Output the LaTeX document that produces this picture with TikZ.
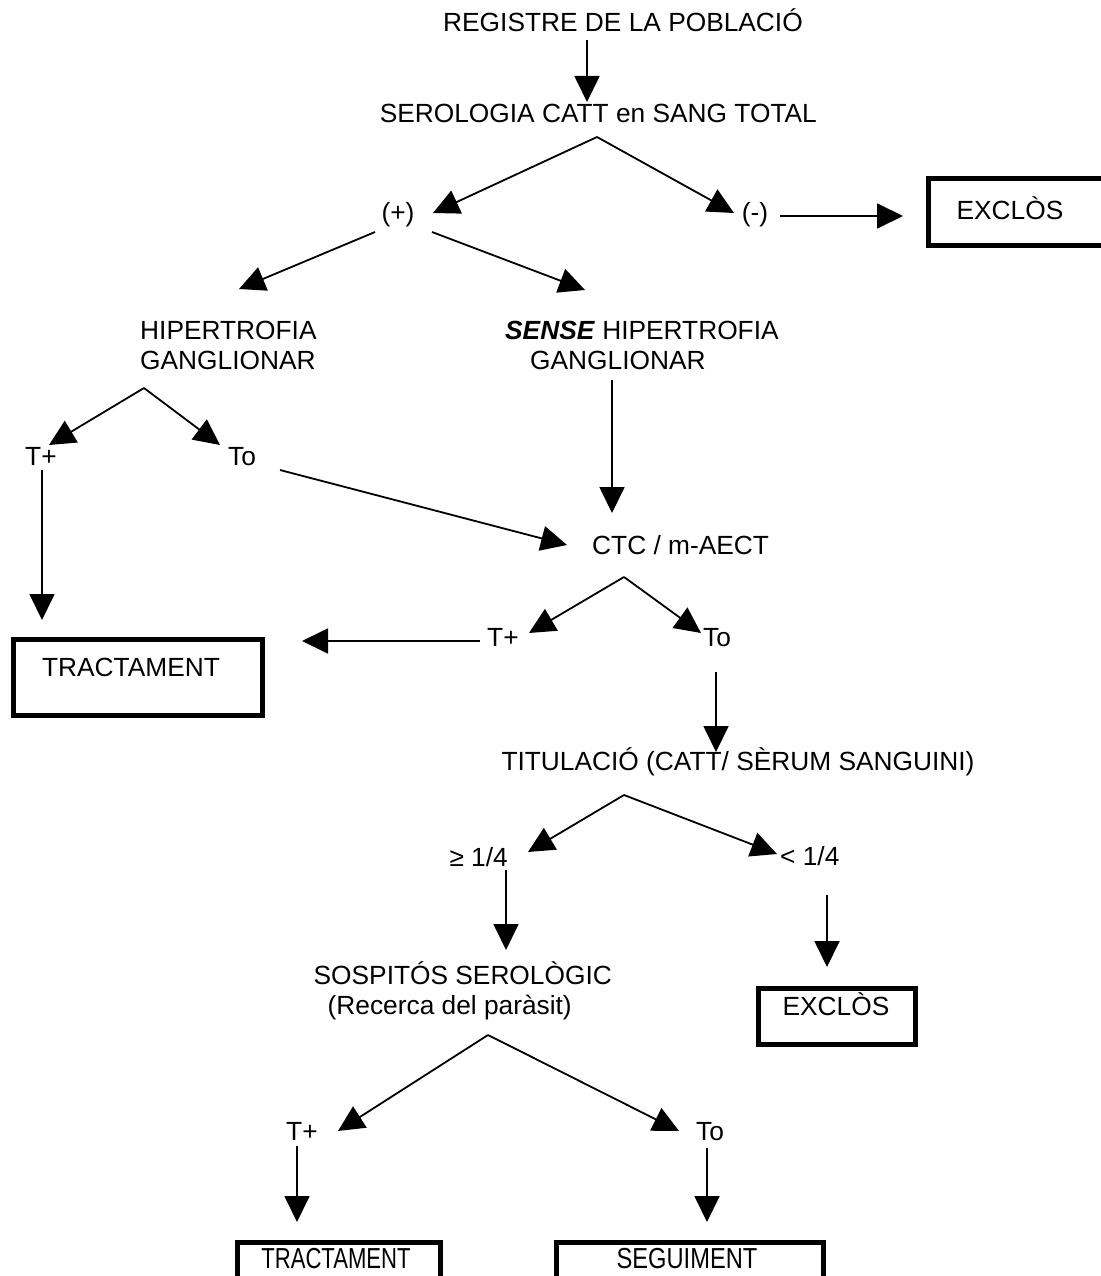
\documentclass[tikz,border=0pt]{standalone}
\usepackage{fontspec}
\setmainfont{Liberation Sans}
\usetikzlibrary{arrows.meta}
\begin{document}
\begin{tikzpicture}[x=1pt,y=-1pt,
  lbl/.style={inner sep=0pt, font=\fontsize{26.3}{30}\selectfont, text height=18.8pt, text depth=0pt},
  arr/.style={line width=1.8pt, -{Triangle[length=26pt,width=25pt]}},
  ln/.style={line width=1.8pt},
  boxx/.style={draw, line width=5pt, inner sep=0pt}]
\useasboundingbox (0,0) rectangle (1100,1276);
\fill[white] (0,0) rectangle (1100,1276);

% texts
\node[lbl, anchor=west] (reg) at (443,22) {REGISTRE DE LA POBLACIÓ};
\node[lbl, anchor=east] (ser) at (817,113) {SEROLOGIA CATT en SANG TOTAL};
\node[lbl] (plus) at (398,212) {(+)};
\node[lbl] (minus) at (755,212) {(-)};
\node[boxx, anchor=north west, minimum width=210, minimum height=66] (exc1box) at (925.5,176.5) {};
\node[lbl] (exc1) at (1010,210) {EXCLÒS};
\node[lbl, anchor=west] (hip1) at (140,330) {HIPERTROFIA};
\node[lbl, anchor=west] (hip2) at (140,360) {GANGLIONAR};
\node[lbl, anchor=west] (sen1) at (505,330) {\textbf{\textit{SENSE}} HIPERTROFIA};
\node[lbl, anchor=west] (sen2) at (530,360) {GANGLIONAR};
\node[lbl, anchor=west] (tp1) at (25,456) {T+};
\node[lbl, anchor=west] (to1) at (228,456) {To};
\node[boxx, anchor=north west, minimum width=249, minimum height=76] (tr1box) at (10.5,636.5) {};
\node[lbl] (tr1) at (131,667) {TRACTAMENT};
\node[lbl, anchor=west] (ctc) at (592,545) {CTC / m-AECT};
\node[lbl, anchor=west] (tp2) at (487,637) {T+};
\node[lbl, anchor=west] (to2) at (703,637) {To};
\node[lbl] (tit) at (738,761) {TITULACIÓ (CATT/ SÈRUM SANGUINI)};
\node[lbl, anchor=east] (ge) at (508,857) {≥ 1/4};
\node[lbl, anchor=west] (lt) at (780,856) {< 1/4};
\node[lbl, anchor=east] (sos1) at (612,975) {SOSPITÓS SEROLÒGIC};
\node[lbl, anchor=east] (sos2) at (572,1005) {(Recerca del paràsit)};
\node[boxx, anchor=north west, minimum width=157, minimum height=56] (exc2box) at (755.5,985.5) {};
\node[lbl] (exc2) at (836,1006) {EXCLÒS};
\node[lbl, anchor=west] (tp3) at (286,1131) {T+};
\node[lbl, anchor=west] (to3) at (696,1131) {To};
\node[boxx, anchor=north west, minimum width=203, minimum height=60] (tr2box) at (234.5,1239.5) {};
\node[lbl] (tr2) at (336,1259) {\scalebox{0.84}[1.1]{TRACTAMENT}};
\node[boxx, anchor=north west, minimum width=267, minimum height=60] (segbox) at (553.5,1239.5) {};
\node[lbl] (seg) at (687,1259) {\scalebox{0.9}[1.1]{SEGUIMENT}};

% connector end points
\coordinate (a0) at (587,40);
\coordinate (a1) at (587,102);
\coordinate (b0) at (597,137);
\coordinate (b1) at (433,213);
\coordinate (b2) at (734,213);
\coordinate (c0) at (780,216);
\coordinate (c1) at (903,216);
\coordinate (d0) at (375,232);
\coordinate (d1) at (239,289);
\coordinate (e0) at (432,232);
\coordinate (e1) at (585,290);
\coordinate (f0) at (144,388);
\coordinate (f1) at (49,445);
\coordinate (f2) at (220,445);
\coordinate (g0) at (42,470);
\coordinate (g1) at (42,620);
\coordinate (h0) at (280,470);
\coordinate (h1) at (567,545);
\coordinate (i0) at (612,380);
\coordinate (i1) at (612,513);
\coordinate (j0) at (624,577);
\coordinate (j1) at (529,633);
\coordinate (j2) at (701,633);
\coordinate (k0) at (480,641);
\coordinate (k1) at (302,641);
\coordinate (l0) at (716,672);
\coordinate (l1) at (716,752);
\coordinate (m0) at (624,795);
\coordinate (m1) at (528,852);
\coordinate (m2) at (777,854);
\coordinate (n0) at (506,870);
\coordinate (n1) at (506,950);
\coordinate (o0) at (827,895);
\coordinate (o1) at (827,967);
\coordinate (p0) at (488,1035);
\coordinate (p1) at (338,1131);
\coordinate (p2) at (679,1131);
\coordinate (q0) at (297,1146);
\coordinate (q1) at (297,1222);
\coordinate (r0) at (707,1148);
\coordinate (r1) at (707,1222);

\draw[arr] (a0) -- (a1);
\draw[arr] (b0) -- (b1);
\draw[arr] (b0) -- (b2);
\draw[arr] (c0) -- (c1);
\draw[arr] (d0) -- (d1);
\draw[arr] (e0) -- (e1);
\draw[arr] (f0) -- (f1);
\draw[arr] (f0) -- (f2);
\draw[arr] (g0) -- (g1);
\draw[arr] (h0) -- (h1);
\draw[arr] (i0) -- (i1);
\draw[arr] (j0) -- (j1);
\draw[arr] (j0) -- (j2);
\draw[arr] (k0) -- (k1);
\draw[arr] (l0) -- (l1);
\draw[arr] (m0) -- (m1);
\draw[arr] (m0) -- (m2);
\draw[arr] (n0) -- (n1);
\draw[arr] (o0) -- (o1);
\draw[arr] (p0) -- (p1);
\draw[arr] (p0) -- (p2);
\draw[arr] (q0) -- (q1);
\draw[arr] (r0) -- (r1);
\end{tikzpicture}
\end{document}
